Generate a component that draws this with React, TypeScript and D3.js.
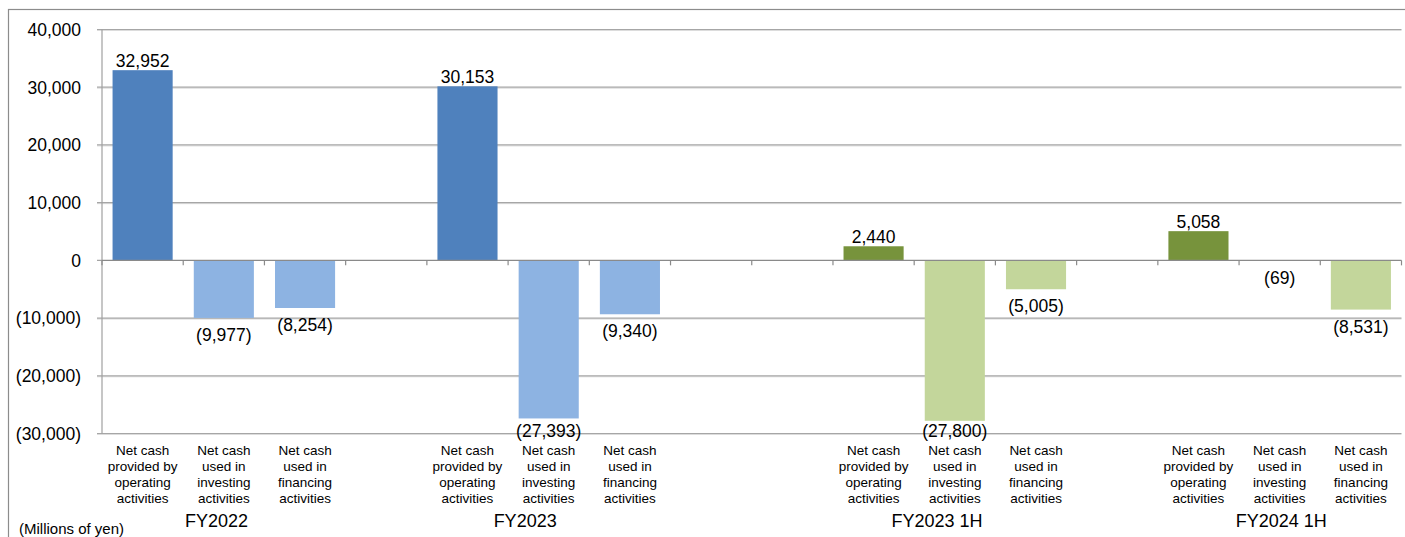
import React from 'react';
import * as d3 from 'd3';

// Cash flow data (millions of yen)
const periods = ['FY2022', 'FY2023', 'FY2023 1H', 'FY2024 1H'];
const halfYear = [false, false, true, true];
const operating = [32952, 30153, 2440, 5058];
const investing = [-9977, -27393, -27800, -69];
const financing = [-8254, -9340, -5005, -8531];
// blank category slots between the period groups
const blanksAfter = [1, 2, 1];

const activityLabels = [
  ['Net cash', 'provided by', 'operating', 'activities'],
  ['Net cash', 'used in', 'investing', 'activities'],
  ['Net cash', 'used in', 'financing', 'activities'],
];
const yTicks = [40000, 30000, 20000, 10000, 0, -10000, -20000, -30000];

const W = 1405;
const H = 537;
const FONT = "Arial, 'Liberation Sans', sans-serif";
const m = { left: 102, right: 1401.5, top: 29.5, bottom: 433.5 };

// nudge (in slots) for the period labels, as the source places them
const groupNudge = [-0.09, -0.29, -0.22, 0.02];

const fmt = (v: number) => {
  const s = d3.format(',')(Math.abs(v));
  return v < 0 ? `(${s})` : s;
};

interface Bar {
  key: string;
  period: number;
  kind: number;
  value: number;
}

const App: React.FC = () => {
  // build the slot list: 3 categories per period plus blank slots
  const slots: string[] = [];
  const bars: Bar[] = [];
  periods.forEach((p, i) => {
    [operating[i], investing[i], financing[i]].forEach((v, k) => {
      const key = `${p}-${k}`;
      slots.push(key);
      bars.push({ key, period: i, kind: k, value: v });
    });
    if (i < blanksAfter.length) {
      for (let b = 0; b < blanksAfter[i]; b++) slots.push(`${p}-blank-${b}`);
    }
  });

  const x = d3.scaleBand<string>()
    .domain(slots)
    .range([m.left, m.right])
    .paddingInner(0.26)
    .paddingOuter(0.13);

  const y = d3.scaleLinear()
    .domain([-30000, 40000])
    .range([m.bottom, m.top]);

  const step = x.step();
  const center = (k: string) => (x(k) ?? 0) + x.bandwidth() / 2;
  const y0 = y(0);

  const color = (b: Bar) => {
    if (halfYear[b.period]) return b.kind === 0 ? '#77933C' : '#C3D69B';
    return b.kind === 0 ? '#4F81BD' : '#8DB3E2';
  };

  // slot boundaries for the small ticks under the zero line
  const boundaries = d3.range(slots.length + 1).map(i => m.left + i * step);

  return (
    <div style={{ position: 'absolute', left: 0, top: 0 }}>
      <svg width={W} height={H} style={{ display: 'block', background: '#fff' }}>
        {/* outer chart frame */}
        <rect x={8.5} y={9.5} width={W + 10} height={H + 10} fill="none" stroke="#8c8c8c" strokeWidth={1.2} />

        {/* gridlines */}
        <g>
          {yTicks.filter(t => t !== 0).map(t => (
            <g key={t}>
              <line x1={m.left - 5} x2={m.right} y1={y(t) + 1} y2={y(t) + 1} stroke="#dcdcdc" strokeWidth={1} />
              <line x1={m.left - 5} x2={m.right} y1={y(t)} y2={y(t)} stroke="#a6a6a6" strokeWidth={1.2} />
            </g>
          ))}
        </g>

        {/* y axis */}
        <line x1={m.left} x2={m.left} y1={m.top} y2={m.bottom} stroke="#a0a0a0" strokeWidth={1.2} />
        <line x1={m.left - 5} x2={m.left} y1={y0} y2={y0} stroke="#a0a0a0" strokeWidth={1.2} />
        <g fontFamily={FONT} fontSize={17.5} fill="#000" textAnchor="end">
          {yTicks.map(t => (
            <text key={t} x={81} y={y(t) + 6.3}>{fmt(t)}</text>
          ))}
        </g>

        {/* bars */}
        <g>
          {bars.map(b => (
            <rect
              key={b.key}
              x={x(b.key)}
              width={x.bandwidth()}
              y={y(Math.max(0, b.value))}
              height={Math.abs(y(b.value) - y0)}
              fill={color(b)}
            />
          ))}
        </g>

        {/* zero axis with category ticks */}
        <line x1={m.left} x2={m.right} y1={y0} y2={y0} stroke="#8a8a8a" strokeWidth={1.2} />
        {boundaries.map((bx, i) => (
          <line key={i} x1={bx} x2={bx} y1={y0} y2={y0 + 5} stroke="#8a8a8a" strokeWidth={1.2} />
        ))}

        {/* value labels */}
        <g fontFamily={FONT} fontSize={17.5} fill="#000" textAnchor="middle">
          {bars.map(b => {
            const ty = b.value >= 0
              ? y(b.value) - 3.5
              : Math.min(y(b.value) + 23, m.bottom + 3);
            return (
              <text key={b.key} x={center(b.key)} y={ty}>{fmt(b.value)}</text>
            );
          })}
        </g>

        {/* category labels */}
        <g fontFamily={FONT} fontSize={13.5} fill="#000" textAnchor="middle">
          {bars.map(b => (
            <text key={b.key} x={center(b.key)} y={455}>
              {activityLabels[b.kind].map((line, li) => (
                <tspan key={li} x={center(b.key)} dy={li === 0 ? 0 : 16}>{line}</tspan>
              ))}
            </text>
          ))}
        </g>

        {/* period labels */}
        <g fontFamily={FONT} fontSize={18} fill="#000" textAnchor="middle">
          {periods.map((p, i) => (
            <text key={p} x={center(`${p}-1`) + groupNudge[i] * step} y={526.5}>{p}</text>
          ))}
        </g>

        <text x={19} y={534} fontFamily={FONT} fontSize={15} fill="#000">(Millions of yen)</text>
      </svg>
    </div>
  );
};

export default App;
